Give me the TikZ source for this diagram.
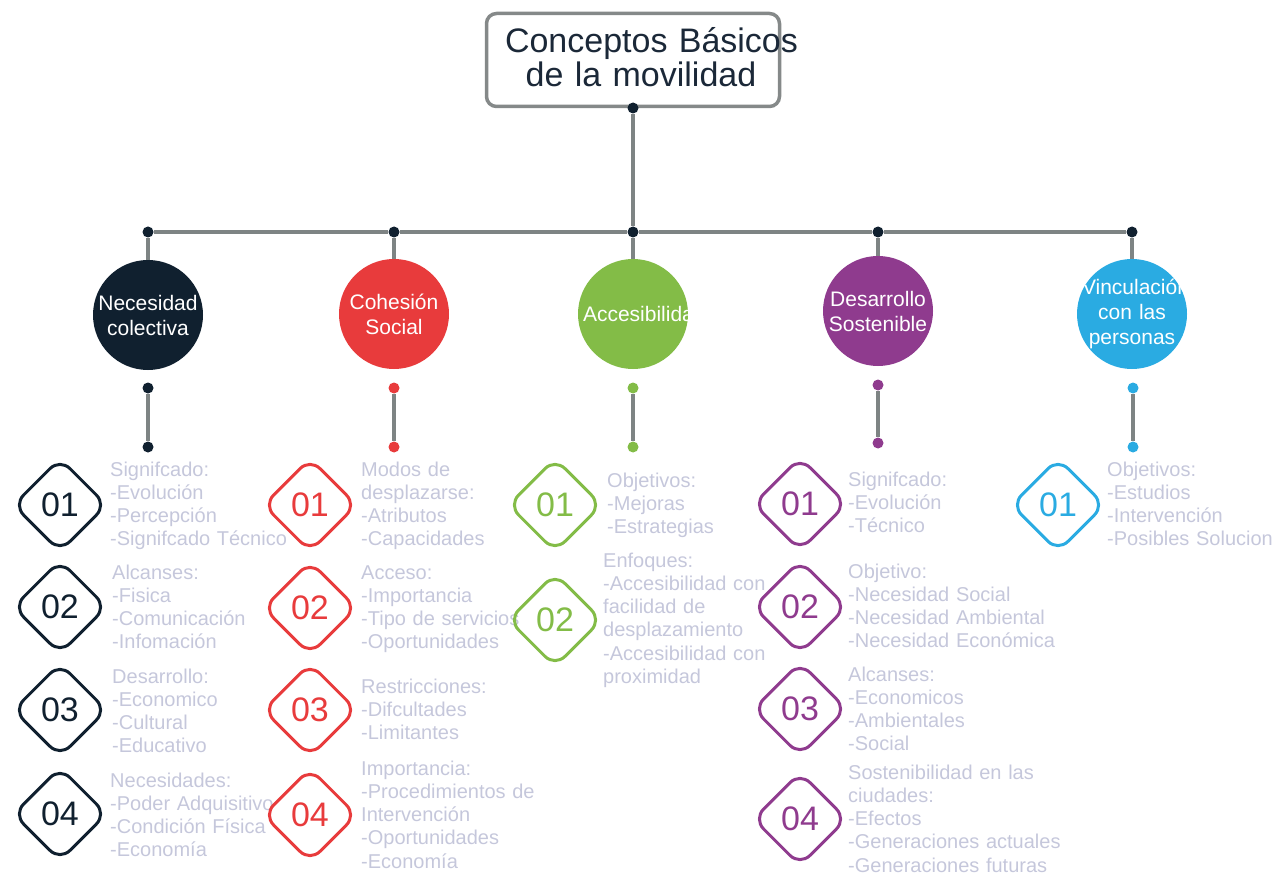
\documentclass[tikz,border=0pt]{standalone}
\usepackage{fontspec}
\setmainfont{Liberation Sans}
\usetikzlibrary{shapes.geometric}

\definecolor{navy}{HTML}{10202F}
\definecolor{cred}{HTML}{E83B3C}
\definecolor{cgreen}{HTML}{83BC47}
\definecolor{cpurple}{HTML}{8F3B8E}
\definecolor{cblue}{HTML}{2AABE2}
\definecolor{linegray}{HTML}{7E8484}
\definecolor{boxgray}{HTML}{858989}
\definecolor{infogray}{HTML}{C5C7DB}
\definecolor{titlenavy}{HTML}{1B2838}

\begin{document}
\begin{tikzpicture}[x = 1pt, y = -1pt,
        link/.style = {line width = 4pt, draw = linegray},
        dot/.style = {circle, fill = #1, inner sep = 0pt, minimum size = 11pt},
        topic/.style = {circle, fill = #1, inner sep = 0pt, minimum size = 110pt},
        ctext/.style = {text = white, text width = 100pt, align = center, inner sep = 0pt,
            font = \fontsize{21}{25}\selectfont},
        num/.style = {diamond, draw = #1, text = #1, line width = 3pt, rounded corners = 14pt,
            minimum width = 94pt, minimum height = 94pt, inner sep = 0pt,
            font = \fontsize{34}{34}\selectfont},
        info/.style = {anchor = base west, text = infogray, text width = 240pt, align = left,
            inner sep = 0pt, font = \fontsize{20}{23.3}\selectfont}]
        \useasboundingbox (0, 0) rectangle (1273, 874);

        % title
        \node[draw = boxgray, line width = 3.5pt, rounded corners = 10pt,
            minimum width = 293pt, minimum height = 93pt] (title) at (633, 60) {};
        \node[text = titlenavy, text width = 272pt, align = center, inner sep = 0pt,
            font = \fontsize{34}{34}\selectfont] (titletext) at (641, 57)
            {\mbox{Conceptos Básicos}\\de la movilidad};

        % tree dots
        \node[dot = navy] (tp) at (633, 108) {};
        \node[dot = navy] (h1) at (148, 232) {};
        \node[dot = navy] (h2) at (394, 232) {};
        \node[dot = navy] (hc) at (633, 232) {};
        \node[dot = navy] (h4) at (878, 232) {};
        \node[dot = navy] (h5) at (1132, 232) {};

        % topics
        \node[topic = navy, path picture = {\node[ctext] at (path picture bounding box.center)
            {Necesidad\\colectiva};}] (nec) at (148, 315) {};
        \node[topic = cred, path picture = {\node[ctext] at (path picture bounding box.center)
            {Cohesión\\Social};}] (coh) at (394, 314) {};
        \node[topic = cgreen, path picture = {\node[ctext] at (path picture bounding box.center)
            {\mbox{Accesibilidad}};}] (acc) at (633, 314) {};
        \node[topic = cpurple, path picture = {\node[ctext] at (path picture bounding box.center)
            {Desarrollo\\Sostenible};}] (des) at (878, 311) {};
        \node[topic = cblue, path picture = {\node[ctext] at (path picture bounding box.center)
            {\mbox{Vinculación}\\con las\\personas};}] (vin) at (1132, 314) {};

        \draw[link] (tp) -- (hc);
        \draw[link] (h1) -- (h2);
        \draw[link] (h2) -- (hc);
        \draw[link] (hc) -- (h4);
        \draw[link] (h4) -- (h5);
        \draw[link] (h1) -- (nec);
        \draw[link] (h2) -- (coh);
        \draw[link] (hc) -- (acc);
        \draw[link] (h4) -- (des);
        \draw[link] (h5) -- (vin);

        % stems under the topics
        \node[dot = navy] (a1) at (148, 388) {};
        \node[dot = navy] (a2) at (148, 447) {};
        \node[dot = cred] (b1) at (394, 388) {};
        \node[dot = cred] (b2) at (394, 447) {};
        \node[dot = cgreen] (c1) at (633, 388) {};
        \node[dot = cgreen] (c2) at (633, 447) {};
        \node[dot = cpurple] (d1) at (878, 385) {};
        \node[dot = cpurple] (d2) at (878, 443) {};
        \node[dot = cblue] (e1) at (1133, 388) {};
        \node[dot = cblue] (e2) at (1133, 447) {};
        \draw[link] (a1) -- (a2);
        \draw[link] (b1) -- (b2);
        \draw[link] (c1) -- (c2);
        \draw[link] (d1) -- (d2);
        \draw[link] (e1) -- (e2);

        % Necesidad colectiva
        \node[info] (t11) at (110, 476) {Signifcado:\\-Evolución\\-Percepción\\-Signifcado Técnico};
        \node[info] (t12) at (112, 579) {Alcanses:\\-Fisica\\-Comunicación\\-Infomación};
        \node[info] (t13) at (112, 683) {Desarrollo:\\-Economico\\-Cultural\\-Educativo};
        \node[info] (t14) at (110, 787) {Necesidades:\\-Poder Adquisitivo\\-Condición Física\\-Economía};
        \node[num = navy] (n11) at (60, 505) {01};
        \node[num = navy] (n12) at (60, 607) {02};
        \node[num = navy] (n13) at (60, 710) {03};
        \node[num = navy] (n14) at (60, 814) {04};

        % Cohesion social
        \node[info] (t21) at (361, 476) {Modos de\\desplazarse:\\-Atributos\\-Capacidades};
        \node[info] (t22) at (361, 579) {Acceso:\\-Importancia\\-Tipo de servicios\\-Oportunidades};
        \node[info] (t23) at (361, 693) {Restricciones:\\-Difcultades\\-Limitantes};
        \node[info] (t24) at (361, 775) {Importancia:\\-Procedimientos de\\Intervención\\-Oportunidades\\-Economía};
        \node[num = cred] (n21) at (310, 505) {01};
        \node[num = cred] (n22) at (310, 608) {02};
        \node[num = cred] (n23) at (310, 710) {03};
        \node[num = cred] (n24) at (310, 815) {04};

        % Accesibilidad
        \node[info] (t31) at (607, 487) {Objetivos:\\-Mejoras\\-Estrategias};
        \node[info] (t32) at (603, 567) {Enfoques:\\-Accesibilidad con\\facilidad de\\desplazamiento\\-Accesibilidad con\\proximidad};
        \node[num = cgreen] (n31) at (555, 505) {01};
        \node[num = cgreen] (n32) at (555, 620) {02};

        % Desarrollo sostenible
        \node[info] (t41) at (848, 486) {Signifcado:\\-Evolución\\-Técnico};
        \node[info] (t42) at (848, 578) {Objetivo:\\-Necesidad Social\\-Necesidad Ambiental\\-Necesidad Económica};
        \node[info] (t43) at (848, 681) {Alcanses:\\-Economicos\\-Ambientales\\-Social};
        \node[info] (t44) at (848, 779) {Sostenibilidad en las\\ciudades:\\-Efectos\\-Generaciones actuales\\-Generaciones futuras};
        \node[num = cpurple] (n41) at (800, 504) {01};
        \node[num = cpurple] (n42) at (800, 607) {02};
        \node[num = cpurple] (n43) at (800, 709) {03};
        \node[num = cpurple] (n44) at (800, 819) {04};

        % Vinculacion
        \node[info] (t51) at (1107, 476) {Objetivos:\\-Estudios\\-Intervención\\-Posibles Soluciones};
        \node[num = cblue] (n51) at (1058, 505) {01};
    \end{tikzpicture}
\end{document}
